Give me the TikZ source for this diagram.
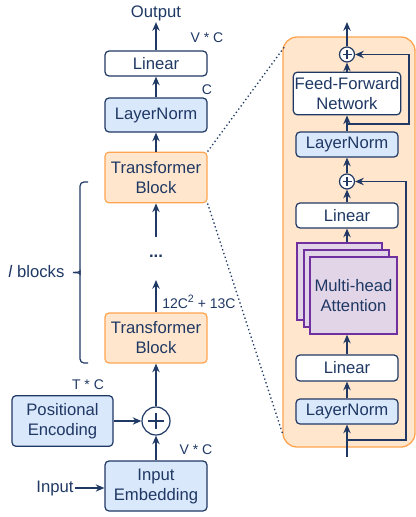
\documentclass[tikz,border=0pt]{standalone}
\usepackage{fontspec}
\setmainfont{Liberation Sans}
\usetikzlibrary{arrows.meta,calc}
\definecolor{navy}{HTML}{1F3864}
\definecolor{normblue}{HTML}{DAE8FC}
\definecolor{tbfill}{HTML}{FFE6CC}
\definecolor{tbline}{HTML}{FFA552}
\definecolor{headfill}{HTML}{E1D5E7}
\definecolor{headline}{HTML}{7030A0}
\tikzset{
  blk/.style={draw=navy,line width=0.9pt,rounded corners=3pt,minimum width=76.5pt,inner sep=1pt,
    align=center,text=navy,font=\fontsize{12.5}{15}\selectfont},
  plainblk/.style={blk,fill=white},
  normblk/.style={blk,fill=normblue},
  tblk/.style={blk,draw=tbline,fill=tbfill},
  headblk/.style={draw=headline,fill=headfill,line width=1pt,minimum width=63.75pt,minimum height=57.75pt,
    align=center,text=navy,font=\fontsize{12.5}{15}\selectfont},
  addop/.style={circle,draw=navy,fill=white,line width=0.9pt,minimum size=#1,inner sep=0pt,
    path picture={\draw[navy,line width=0.8pt]
      ($(path picture bounding box.west)!.2!(path picture bounding box.east)$)--($(path picture bounding box.west)!.8!(path picture bounding box.east)$)
      ($(path picture bounding box.north)!.2!(path picture bounding box.south)$)--($(path picture bounding box.north)!.8!(path picture bounding box.south)$);}},
  txt/.style={text=navy,font=\fontsize{12.5}{15}\selectfont,inner sep=1pt},
  dimlbl/.style={text=navy,font=\fontsize{10.5}{12}\selectfont,inner sep=0pt},
  arr/.style={-{Stealth[length=6.5pt,width=5.5pt]},navy,line width=1.1pt},
}
\begin{document}
\begin{tikzpicture}[x=0.75pt,y=-0.75pt]
\pgfmathsetmacro{\xl}{156}
\pgfmathsetmacro{\xr}{347}
\useasboundingbox (0,0) rectangle (416,517);
% one block, opened up
\node[draw=tbline,fill=tbfill,line width=1pt,rounded corners=10.5pt,minimum width=99pt,minimum height=307.5pt] (panel) at (349,242) {};
% main stack
\node[txt] (out) at (\xl,13) {Output};
\node[plainblk,minimum height=18.75pt] (lin) at (\xl,63.5) {Linear};
\node[normblk,minimum height=25.5pt] (ln) at (\xl,115) {LayerNorm};
\node[tblk,minimum height=38pt] (tb1) at (\xl,177.5) {Transformer\\Block};
\node[txt] (dots) at (\xl,256) {\textbf{...}};
\coordinate (dn1) at (\xl,237);
\coordinate (up1) at (\xl,280);
\node[tblk,minimum height=37.5pt] (tb2) at (\xl,338) {Transformer\\Block};
\node[addop=21pt] (add) at (\xl,421) {};
\node[normblk,minimum height=38pt,minimum width=75.75pt] (pe) at (62.5,421) {Positional\\Encoding};
\node[normblk,minimum height=37.5pt] (ie) at (\xl,486) {Input\\Embedding};
\node[txt] (inp) at (55,488) {Input};
\draw[arr] (inp.east) -- (inp.east -| ie.west);
\draw[arr] (ie) -- (add);
\draw[arr] (pe) -- (add);
\draw[arr] (add) -- (tb2);
\draw[arr] (tb2) -- (up1);
\draw[arr] (dn1) -- (tb1);
\draw[arr] (tb1) -- (ln);
\draw[arr] (ln) -- (lin);
\draw[arr] (lin) -- (out);
\node[dimlbl] at (207,38) {V * C};
\node[dimlbl] at (207,90) {C};
\node[dimlbl,anchor=west] at (162,302) {12C\raisebox{0.8ex}{\fontsize{8}{8}\selectfont 2} + 13C};
\node[dimlbl] at (88,385) {T * C};
\node[dimlbl] at (196,450) {V * C};
% brace over the stack of blocks
\draw[navy,line width=0.9pt,rounded corners=3pt] (88,182) -| (80,266) -- (80,270) to[out=-90,in=0] (73,272.5);
\draw[navy,line width=0.9pt,rounded corners=3pt] (88,363) -| (80,279) -- (80,275) to[out=90,in=0] (73,272.5);
\node[txt,anchor=east] (nl) at (66,272) {\textit{l} blocks};
% inside the block
\coordinate (top) at (\xr,22);
\node[addop=11.25pt] (add1) at (\xr,54.5) {};
\node[plainblk,minimum height=32pt] (ffn) at (\xr,93.5) {Feed-Forward\\Network};
\node[normblk,minimum height=18.75pt] (ln2) at (\xr,144.5) {LayerNorm};
\node[addop=11.25pt] (add2) at (\xr,181.5) {};
\node[plainblk,minimum height=18.75pt] (lin2) at (\xr,215.5) {Linear};
\node[headblk] (mha3) at (339.5,281.5) {};
\node[headblk] (mha2) at (346.5,288.5) {};
\node[headblk] (mha) at (353.5,295.5) {Multi-head\\Attention};
\node[plainblk,minimum height=19.5pt] (lin3) at (\xr,368) {Linear};
\node[normblk,minimum height=18.75pt] (ln3) at (\xr,411.5) {LayerNorm};
\coordinate (in2) at (\xr,457);
\coordinate (r1) at (\xr,440);
\coordinate (r2) at (\xr,124);
\draw[arr] (in2) -- (ln3);
\draw[arr] (ln3) -- (lin3);
\draw[arr] (lin3.north) -- (lin3.north |- mha.south);
\draw[arr] (lin2.south |- mha3.north) -- (lin2);
\draw[arr] (lin2) -- (add2);
\draw[arr] (add2) -- (ln2);
\draw[arr] (ln2) -- (ffn);
\draw[arr] (ffn) -- (add1);
\draw[arr] (add1) -- (top);
\draw[arr] (r1) -- ++(59,0) |- (add2);
\draw[arr] (r2) -- ++(62,0) |- (add1);
%\draw[red] (283,37) rectangle (415,447);
\draw[navy,dotted,line width=1pt] (tb1.north east) -- ([shift={(1.5pt,-8pt)}]panel.north west);
\draw[navy,dotted,line width=1pt] (tb1.south east) -- ([yshift=11pt]panel.south west);
\end{tikzpicture}
\end{document}
